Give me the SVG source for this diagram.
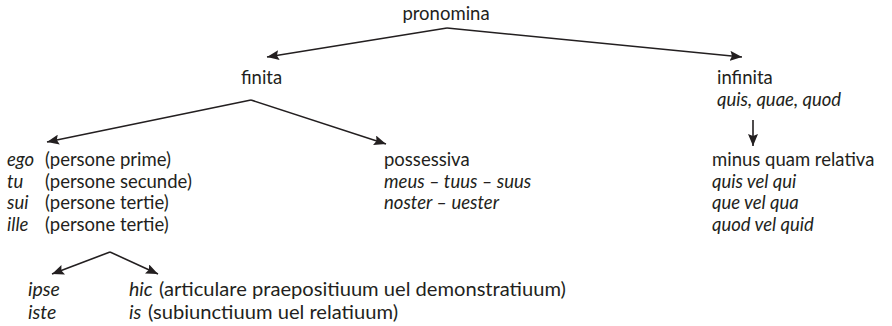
<svg xmlns="http://www.w3.org/2000/svg" width="892" height="326" viewBox="0 0 892 326">
<defs>
<marker id="ah" viewBox="0 0 12 10" refX="12" refY="5" markerWidth="12" markerHeight="10" markerUnits="userSpaceOnUse" orient="auto">
<path d="M0,0 L12,5 L0,10 L2,5 Z" fill="#231f20"/>
</marker>
<style>
text{font-family:Lato,"Liberation Sans",sans-serif;font-size:18.5px;fill:#231f20}
.i{font-style:italic}
.b{font-size:19.5px}
line{stroke:#231f20;stroke-width:1.6;marker-end:url(#ah)}
</style>
</defs>
<g id="connectors">
<line x1="447" y1="28" x2="267" y2="57"/>
<line x1="447" y1="28" x2="742" y2="57"/>
<line x1="251" y1="100" x2="47" y2="142"/>
<line x1="251" y1="100" x2="386" y2="144"/>
<line x1="753" y1="120" x2="753" y2="146"/>
<line x1="110" y1="252" x2="52" y2="274"/>
<line x1="110" y1="252" x2="158" y2="274"/>
</g>
<g id="pronomina"><text x="446" y="20" text-anchor="middle">pronomina</text></g>
<g id="finita"><text x="241" y="84">finita</text></g>
<g id="infinita"><text x="717" y="84">infinita</text><text x="717" y="106" class="i">quis, quae, quod</text></g>
<g id="personalia">
<text x="7" y="166" class="i">ego</text><text x="45" y="166">(persone prime)</text>
<text x="7" y="187.5" class="i">tu</text><text x="45" y="187.5">(persone secunde)</text>
<text x="7" y="209" class="i">sui</text><text x="45" y="209">(persone tertie)</text>
<text x="7" y="230.5" class="i">ille</text><text x="45" y="230.5">(persone tertie)</text>
</g>
<g id="possessiva">
<text x="384" y="166">possessiva</text>
<text x="384" y="187.5" class="i">meus – tuus – suus</text>
<text x="384" y="209" class="i">noster – uester</text>
</g>
<g id="minus-quam-relativa">
<text x="712" y="166">minus quam relativa</text>
<text x="712" y="187.5" class="i">quis vel qui</text>
<text x="712" y="209" class="i">que vel qua</text>
<text x="712" y="230.5" class="i">quod vel quid</text>
</g>
<g id="ipse-iste">
<text x="28" y="296" class="i b">ipse</text>
<text x="28" y="319" class="i b">iste</text>
</g>
<g id="hic-is">
<text x="129" y="296" class="i b">hic</text>
<text x="159" y="296" class="b" textLength="407" lengthAdjust="spacingAndGlyphs">(articulare praepositiuum uel demonstratiuum)</text>
<text x="129" y="319" class="i b">is</text>
<text x="148" y="319" class="b" textLength="250" lengthAdjust="spacingAndGlyphs">(subiunctiuum uel relatiuum)</text>
</g>
</svg>
